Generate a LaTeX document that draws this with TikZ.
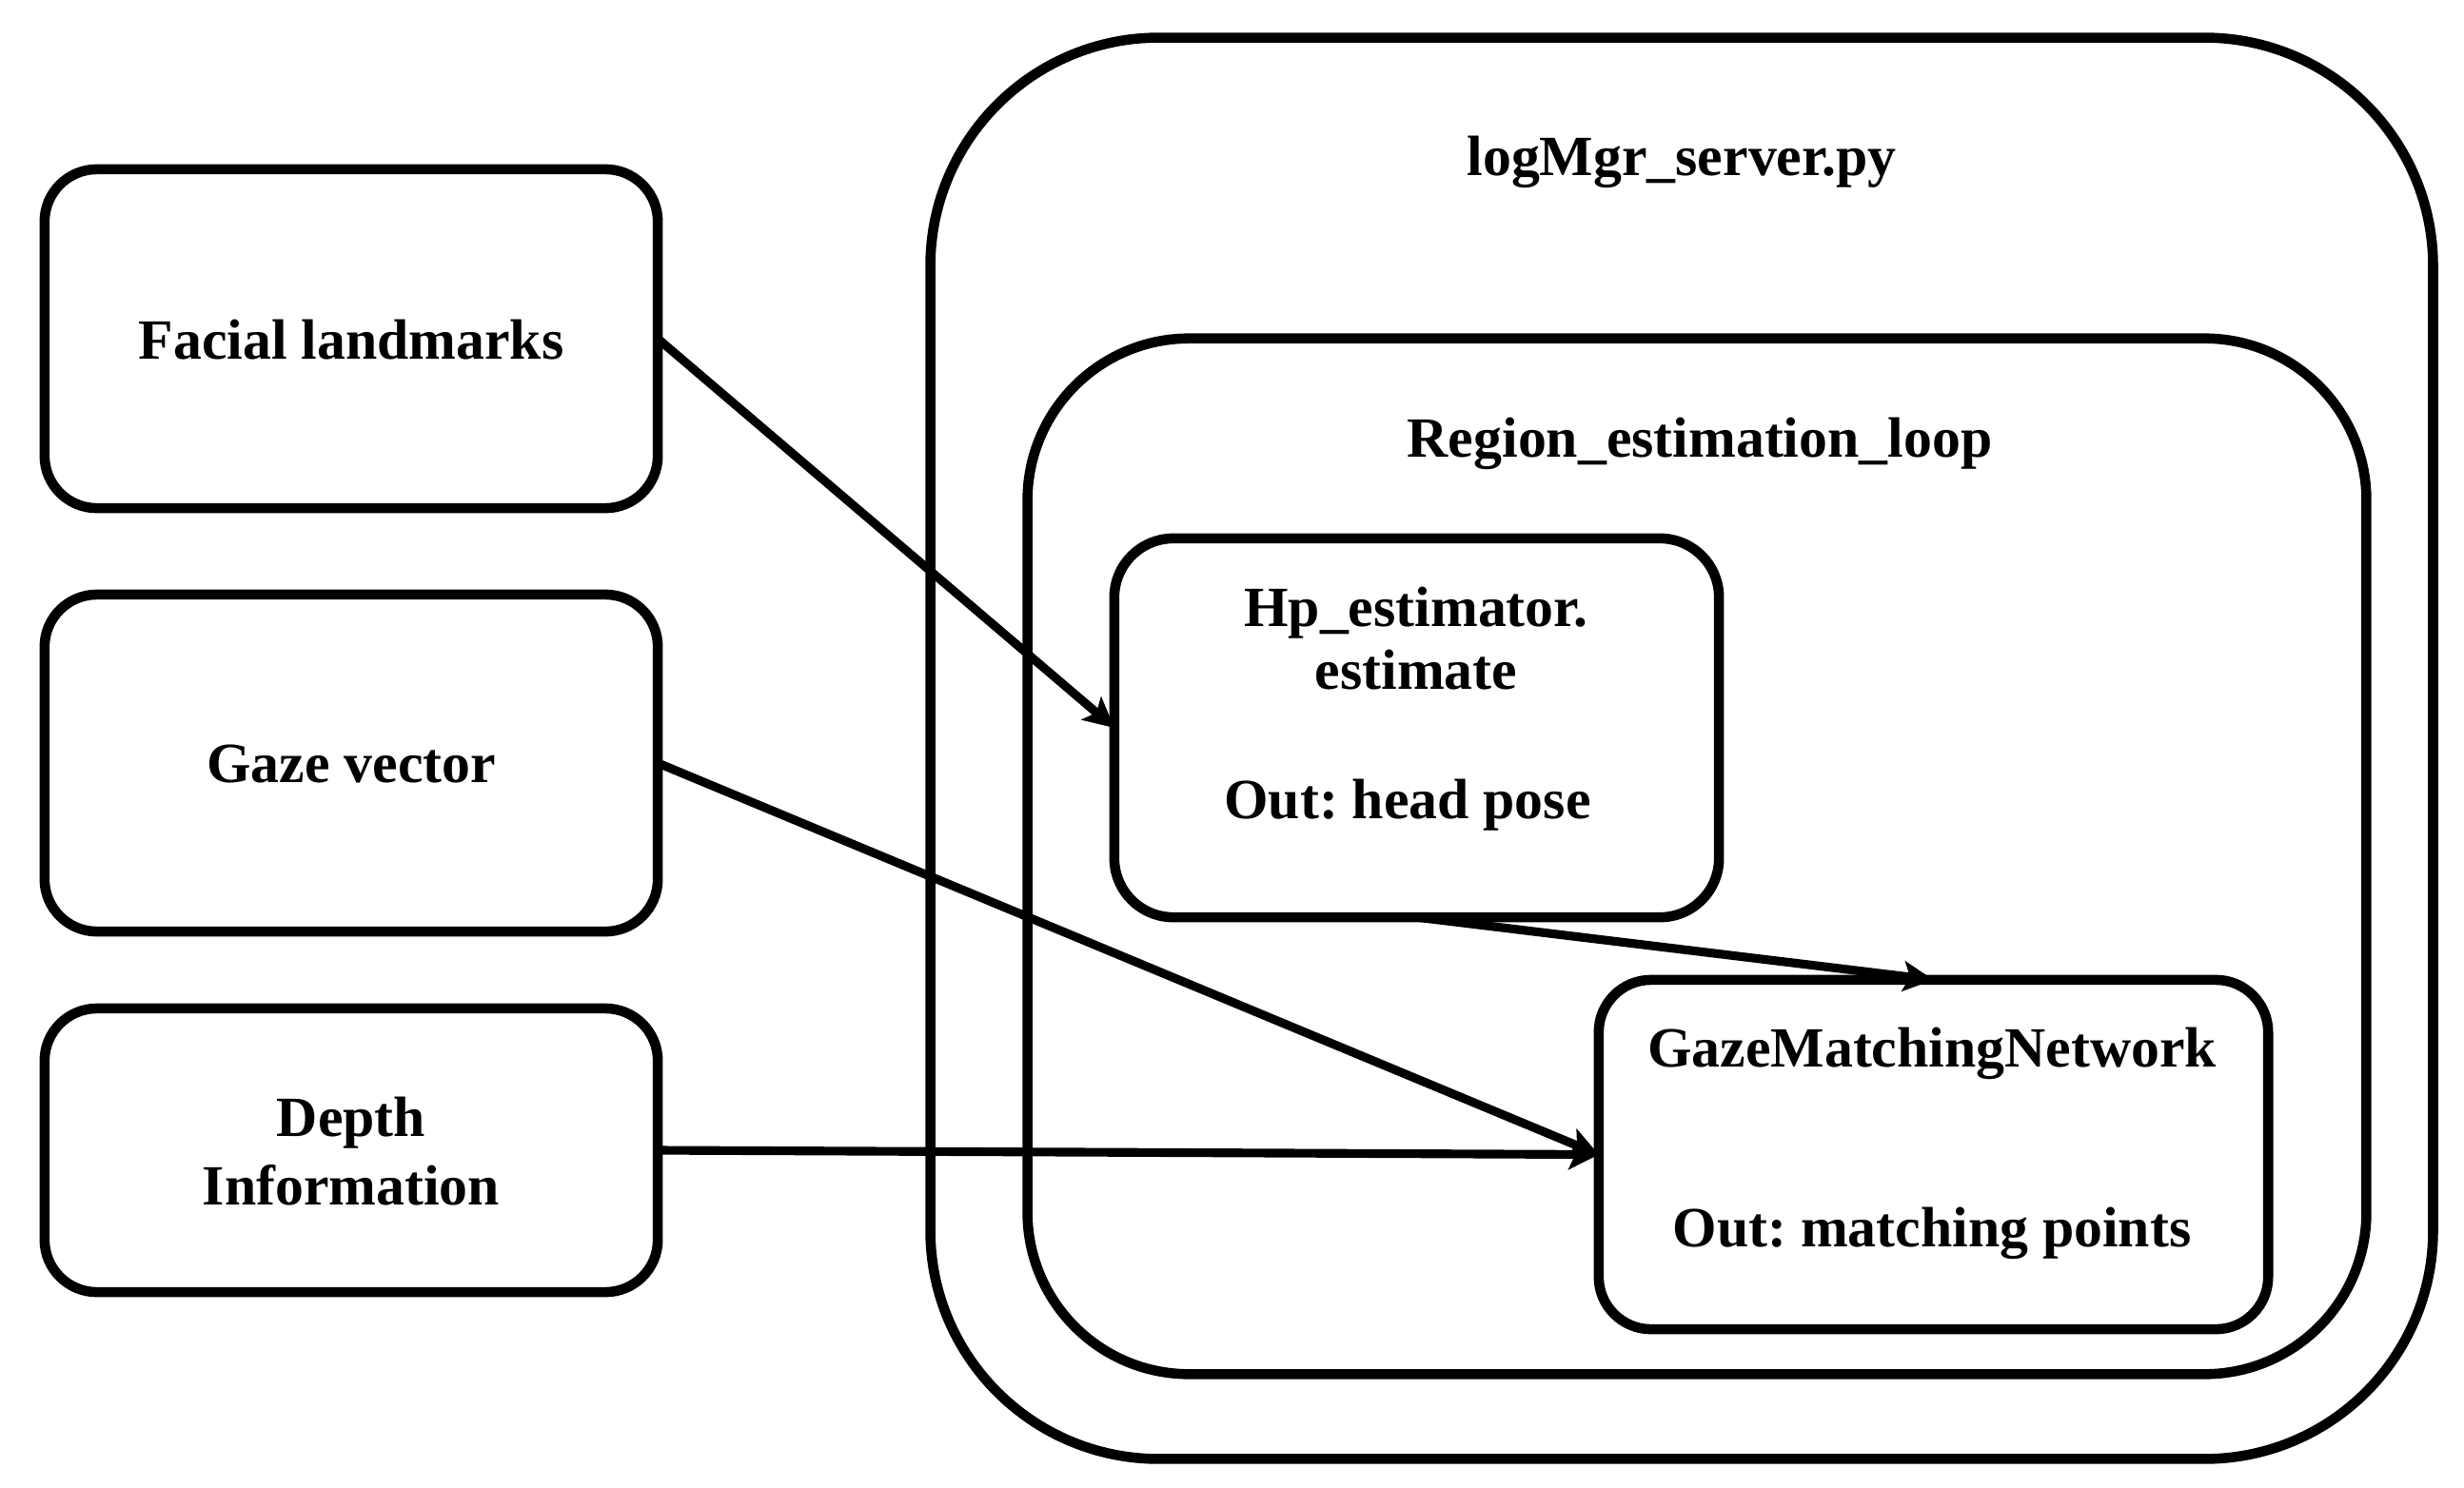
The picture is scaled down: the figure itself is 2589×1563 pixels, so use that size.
\documentclass[tikz,border=0pt]{standalone}
\usepackage{fontspec}
\setmainfont{Liberation Serif}
\usetikzlibrary{arrows.meta}
\frenchspacing
\begin{document}
\begin{tikzpicture}[x=0.01cm,y=-0.01cm,
  frame/.style={draw, line width=3pt, rounded corners=#1, inner sep=0pt, outer sep=0pt},
  lbl/.style={font=\fontsize{17}{20.4}\selectfont\bfseries, anchor=base, inner sep=0pt},
  conn/.style={line width=2.6pt, -{Stealth[length=9pt,width=9pt,inset=2pt]}}]
\useasboundingbox (0,0) rectangle (2589,1563);
% containers
\node[frame=2.4cm, minimum width=15.78cm, minimum height=14.93cm] (outer) at (1767,786.5) {};
\node[frame=1.7cm, minimum width=14.06cm, minimum height=10.88cm] (region) at (1783,900) {};
\node[frame=0.62cm, minimum width=6.35cm, minimum height=3.98cm] (hp) at (1488.5,765) {};
\node[frame=0.55cm, minimum width=7.03cm, minimum height=3.67cm] (gmn) at (2031.5,1213.5) {};
% inputs
\node[frame=0.55cm, minimum width=6.44cm, minimum height=3.56cm] (fac) at (369,356) {};
\node[frame=0.55cm, minimum width=6.44cm, minimum height=3.54cm] (gaz) at (369,802) {};
\node[frame=0.55cm, minimum width=6.44cm, minimum height=2.98cm] (dep) at (369,1209) {};
% labels
\node[lbl] (tfac) at (369,377) {Facial landmarks};
\node[lbl] (tgaz) at (369,822) {Gaze vector};
\node[lbl] (tdep1) at (369,1194) {Depth};
\node[lbl] (tdep2) at (369,1266) {Information};
\node[lbl] (touter) at (1767,184) {logMgr\_server.py};
\node[lbl] (tregion) at (1786,480) {Region\_estimation\_loop};
\node[lbl] (thp1) at (1488,658) {Hp\_estimator.};
\node[lbl] (thp2) at (1488,724) {estimate};
\node[lbl] (thp3) at (1479,860) {Out: head pose};
\node[lbl] (tgmn1) at (2030,1121) {GazeMatchingNetwork};
\node[lbl] (tgmn2) at (2030,1310) {Out: matching points};
% connectors
\draw[conn] (fac.east) -- (hp.west);
\draw[conn] (gaz.east) -- (gmn.west);
\draw[conn] (dep.east) -- (gmn.west);
\draw[conn] (hp.south) -- (gmn.north);
\end{tikzpicture}
\end{document}
